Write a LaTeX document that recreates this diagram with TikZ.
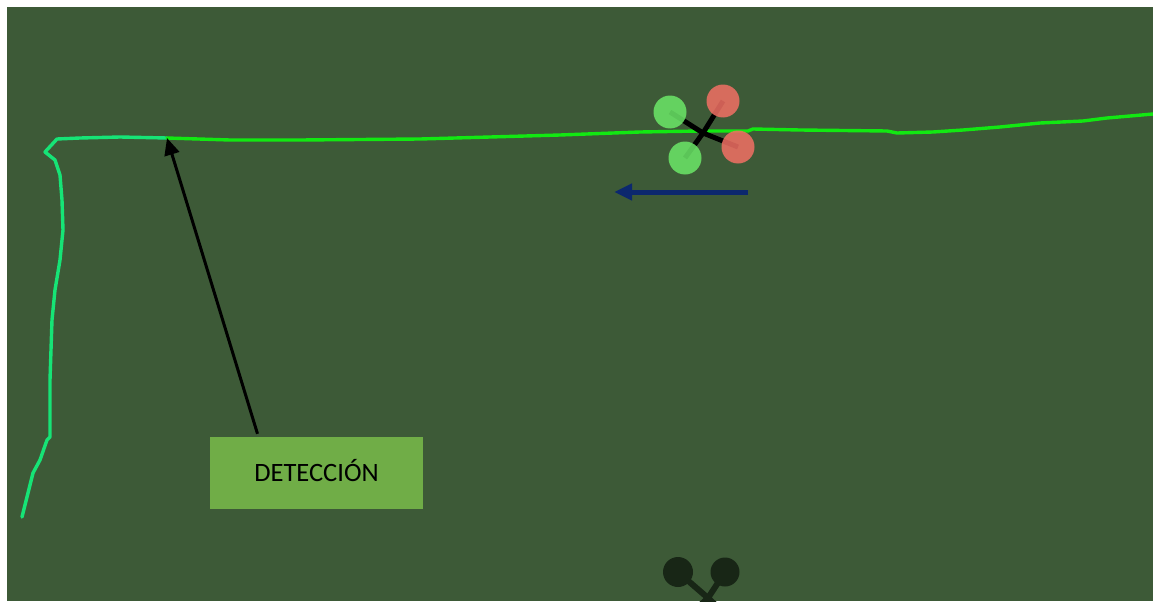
\documentclass[tikz,border=0pt]{standalone}
\usepackage{fontspec}
\setmainfont{Carlito}
\usetikzlibrary{arrows.meta,calc}
\definecolor{ground}{RGB}{61,90,55}
\definecolor{trailA}{RGB}{22,228,118}
\definecolor{trailB}{RGB}{18,232,18}
\definecolor{rotorG}{RGB}{108,232,104}
\definecolor{rotorR}{RGB}{242,112,100}
\definecolor{navy}{RGB}{12,40,110}
\definecolor{labelfill}{RGB}{112,173,71}
\definecolor{shadowdark}{RGB}{24,38,22}
\tikzset{
  trail/.style={line width=3.4pt, line join=round, line cap=round},
  arm/.style={line width=5pt, black},
  rotor/.style={fill opacity=0.85, draw=none},
  labelbox/.style={fill=labelfill, draw=none, minimum width=213pt, minimum height=72pt,
    inner sep=0pt, font=\fontsize{26.5}{31}\selectfont, text=black},
  pointer/.style={line width=3pt, -{Triangle[length=17pt,width=15pt]}},
  heading/.style={line width=5pt, navy, -{Triangle[length=18pt,width=16pt]}}
}
\begin{document}
\begin{tikzpicture}[x=1pt,y=-1pt]
\useasboundingbox (0,0) rectangle (1153,602);
% ground plane
\fill[ground] (7,7) rectangle (1153,601);

% flight trail, first leg (climb along the left side)
\draw[trail, trailA] (22,517) -- (28,493) -- (33,473) -- (40,460) -- (47,440) -- (50,437)
  -- (50,380) -- (51,350) -- (52,320) -- (55,290) -- (60,260) -- (63,230) -- (62,200)
  -- (60,175) -- (55,160) -- (45,152) -- (57,139) -- (80,138) -- (120,137) -- (167,138);
% flight trail, second leg (towards the right)
\draw[trail, trailB] (167,138) -- (230,140) -- (300,140) -- (420,139) -- (560,135)
  -- (640,132) -- (700,131) -- (748,131) -- (753,129) -- (800,130) -- (887,131)
  -- (897,133) -- (933,132) -- (963,130) -- (1000,127) -- (1040,123) -- (1083,121)
  -- (1107,118) -- (1153,114);

% quadrotor
\coordinate (hub) at (703,133);
\coordinate (rgl) at (670,112);
\coordinate (rrt) at (723,101);
\coordinate (rrb) at (738,147);
\coordinate (rgb) at (685,158);
\draw[arm] (hub) -- (rgl);
\draw[arm] (hub) -- (rrt);
\draw[arm] (hub) -- (rrb);
\draw[arm] (hub) -- (rgb);
\fill[rotor, rotorG] (rgl) circle (16.5);
\fill[rotor, rotorR] (rrt) circle (16.5);
\fill[rotor, rotorR] (rrb) circle (16.5);
\fill[rotor, rotorG] (rgb) circle (16.5);

% heading arrow
\coordinate (hfrom) at (748,192);
\coordinate (hto) at (614,192);
\draw[heading] (hfrom) -- (hto);

% detection label and pointer
\node[labelbox] (box) at (316.5,473) {\raisebox{5pt}{DETECCIÓN}};
\coordinate (det) at (167,138);
\draw[pointer] ([xshift=-59pt,yshift=3pt]box.north) -- (det);

% second vehicle at the lower edge
\begin{scope}
\clip (7,7) rectangle (1153,601);
\draw[line width=6pt, shadowdark] (708,598) -- (678,572);
\draw[line width=6pt, shadowdark] (708,598) -- (725,572);
\draw[line width=6pt, shadowdark] (708,598) -- (690,615);
\draw[line width=6pt, shadowdark] (708,598) -- (726,615);
\fill[shadowdark] (678,572) circle (15);
\fill[shadowdark] (725,572) circle (14.5);
\end{scope}
\end{tikzpicture}
\end{document}
